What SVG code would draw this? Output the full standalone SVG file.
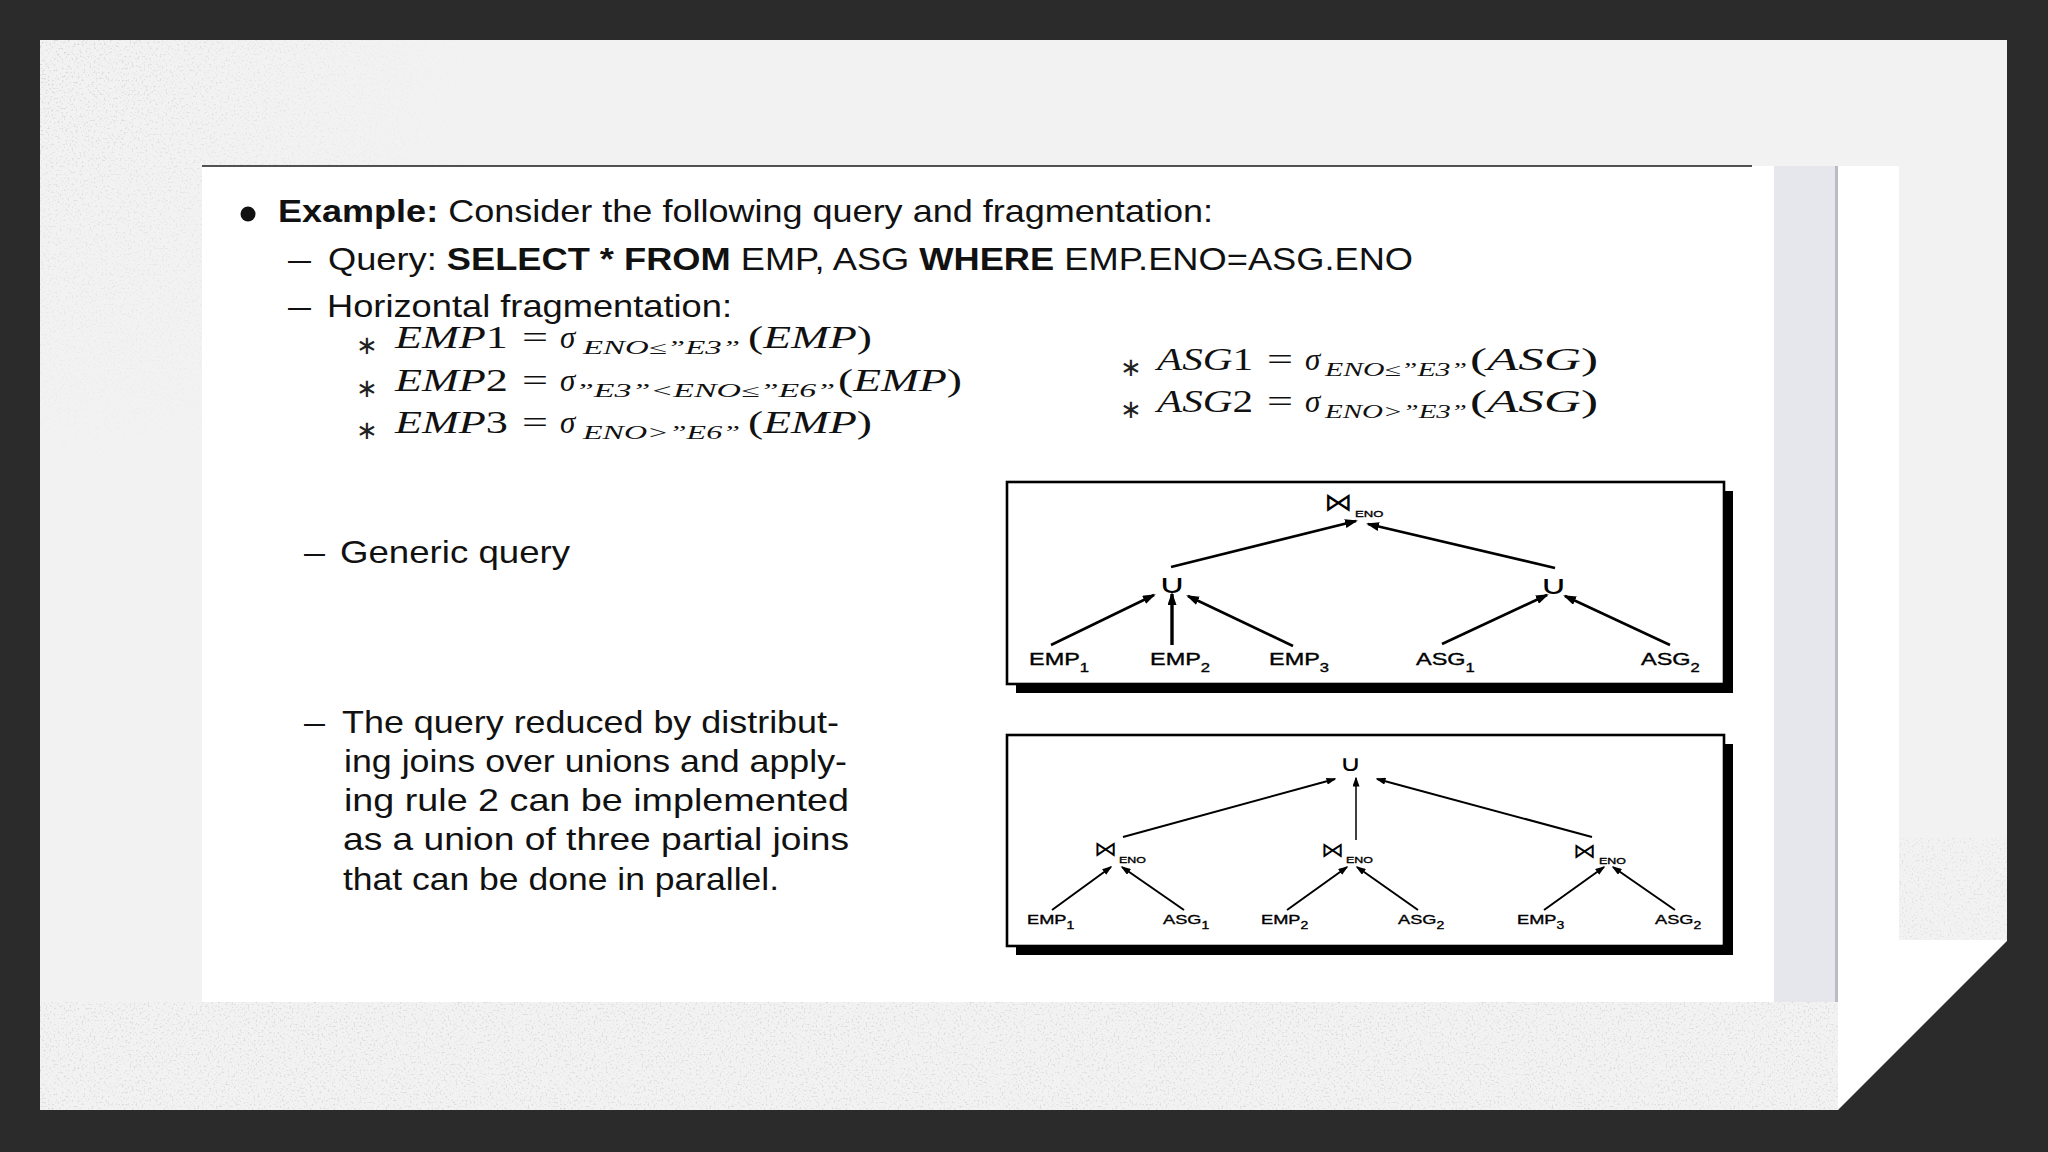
<svg xmlns="http://www.w3.org/2000/svg" width="2048" height="1152" viewBox="0 0 2048 1152">
<defs>
<style>
.sans{font-family:"Liberation Sans",Arial,sans-serif;fill:#111}
.b{font-weight:bold}
.math{font-family:"Liberation Serif","Times New Roman",serif;fill:#111;font-size:31px}
.it{font-style:italic}
.sub{font-family:"Liberation Serif","Times New Roman",serif;font-style:italic;fill:#111;font-size:18px}
.ast{font-family:"DejaVu Sans",sans-serif;fill:#222;font-size:26px}
.lbl{font-family:"Liberation Sans",Arial,sans-serif;fill:#000;stroke:#000;stroke-width:0.35}
.sym{font-family:"DejaVu Sans",sans-serif;fill:#000}
.c1{stroke:#000;stroke-width:2.6;fill:none;marker-end:url(#ah)}
.c2{stroke:#000;stroke-width:2;fill:none;marker-end:url(#ahs)}
</style>
<marker id="ah" viewBox="0 0 13 9" refX="11" refY="4.5" markerWidth="13" markerHeight="9" markerUnits="userSpaceOnUse" orient="auto"><path d="M0,0 L13,4.5 L0,9 z" fill="#000"/></marker>
<marker id="ahs" viewBox="0 0 10 7" refX="8.5" refY="3.5" markerWidth="10" markerHeight="7" markerUnits="userSpaceOnUse" orient="auto"><path d="M0,0 L10,3.5 L0,7 z" fill="#000"/></marker>
<filter id="speck" x="0" y="0" width="100%" height="100%">
<feTurbulence type="fractalNoise" baseFrequency="0.5" numOctaves="2" seed="7"/>
<feColorMatrix type="matrix" values="0 0 0 0 0.6  0 0 0 0 0.6  0 0 0 0 0.6  6 0 0 0 -3.3"/>
</filter>
<radialGradient id="tlg" cx="40" cy="40" r="460" gradientUnits="userSpaceOnUse"><stop offset="0" stop-color="#fff" stop-opacity="1"/><stop offset="1" stop-color="#fff" stop-opacity="0"/></radialGradient>
<mask id="tlm"><rect x="0" y="0" width="2048" height="1152" fill="url(#tlg)"/><rect x="40" y="1002" width="1800" height="110" fill="#fff" fill-opacity="0.8"/><rect x="1899" y="838" width="110" height="102" fill="#fff" fill-opacity="0.6"/></mask>
</defs>

<g id="background">
<rect x="0" y="0" width="2048" height="1152" fill="#2b2b2b"/>
<polygon points="40,40 2007,40 2007,941 1838,1110 40,1110" fill="#f2f2f2"/>
<rect x="40" y="40" width="1967" height="1070" filter="url(#speck)" mask="url(#tlm)" opacity="0.6"/>
<polygon points="1838,166 1899,166 1899,940 2007,940 1838,1109" fill="#ffffff"/>
<rect x="1774" y="166" width="63" height="836" fill="#e5e7ed"/>
<rect x="1835" y="166" width="3" height="836" fill="#b9bcc3"/>
<rect x="202" y="166" width="1572" height="836" fill="#ffffff"/>
<line x1="202" y1="166" x2="1752" y2="166" stroke="#1a1a1a" stroke-width="1.6"/>
</g>

<g id="text-intro">
<circle cx="248" cy="214" r="7.5" fill="#111"/>
<text class="sans" x="278" y="222" font-size="32" textLength="935" lengthAdjust="spacingAndGlyphs"><tspan class="b">Example:</tspan> Consider the following query and fragmentation:</text>
<text class="sans" x="288" y="270" font-size="32" textLength="23" lengthAdjust="spacingAndGlyphs">–</text>
<text class="sans" x="328" y="270" font-size="32" textLength="1085" lengthAdjust="spacingAndGlyphs">Query: <tspan class="b">SELECT * FROM</tspan> EMP, ASG <tspan class="b">WHERE</tspan> EMP.ENO=ASG.ENO</text>
<text class="sans" x="288" y="317" font-size="32" textLength="23" lengthAdjust="spacingAndGlyphs">–</text>
<text class="sans" x="327" y="317" font-size="32" textLength="405" lengthAdjust="spacingAndGlyphs">Horizontal fragmentation:</text>
</g>

<g id="formulas-emp">
<text class="ast" x="356" y="354">∗</text>
<text class="math" x="395" y="348" textLength="113" lengthAdjust="spacingAndGlyphs"><tspan class="it">EMP</tspan>1</text>
<text class="math" x="522" y="348" textLength="26" lengthAdjust="spacingAndGlyphs">=</text>
<text class="math it" x="560" y="348">σ</text>
<text class="sub" x="583" y="354" textLength="157" lengthAdjust="spacingAndGlyphs">ENO≤”E3”</text>
<text class="math" x="748" y="348" textLength="124" lengthAdjust="spacingAndGlyphs">(<tspan class="it">EMP</tspan>)</text>

<text class="ast" x="356" y="397">∗</text>
<text class="math" x="395" y="391" textLength="113" lengthAdjust="spacingAndGlyphs"><tspan class="it">EMP</tspan>2</text>
<text class="math" x="522" y="391" textLength="26" lengthAdjust="spacingAndGlyphs">=</text>
<text class="math it" x="560" y="391">σ</text>
<text class="sub" x="575" y="397" textLength="260" lengthAdjust="spacingAndGlyphs">”E3”&lt;ENO≤”E6”</text>
<text class="math" x="838" y="391" textLength="124" lengthAdjust="spacingAndGlyphs">(<tspan class="it">EMP</tspan>)</text>

<text class="ast" x="356" y="439">∗</text>
<text class="math" x="395" y="433" textLength="113" lengthAdjust="spacingAndGlyphs"><tspan class="it">EMP</tspan>3</text>
<text class="math" x="522" y="433" textLength="26" lengthAdjust="spacingAndGlyphs">=</text>
<text class="math it" x="560" y="433">σ</text>
<text class="sub" x="583" y="439" textLength="157" lengthAdjust="spacingAndGlyphs">ENO&gt;”E6”</text>
<text class="math" x="748" y="433" textLength="124" lengthAdjust="spacingAndGlyphs">(<tspan class="it">EMP</tspan>)</text>
</g>

<g id="formulas-asg">
<text class="ast" x="1120" y="376">∗</text>
<text class="math" x="1157" y="370" textLength="96" lengthAdjust="spacingAndGlyphs"><tspan class="it">ASG</tspan>1</text>
<text class="math" x="1267" y="370" textLength="26" lengthAdjust="spacingAndGlyphs">=</text>
<text class="math it" x="1305" y="370">σ</text>
<text class="sub" x="1325" y="376" textLength="142" lengthAdjust="spacingAndGlyphs">ENO≤”E3”</text>
<text class="math" x="1470" y="370" textLength="128" lengthAdjust="spacingAndGlyphs">(<tspan class="it">ASG</tspan>)</text>

<text class="ast" x="1120" y="418">∗</text>
<text class="math" x="1157" y="412" textLength="96" lengthAdjust="spacingAndGlyphs"><tspan class="it">ASG</tspan>2</text>
<text class="math" x="1267" y="412" textLength="26" lengthAdjust="spacingAndGlyphs">=</text>
<text class="math it" x="1305" y="412">σ</text>
<text class="sub" x="1325" y="418" textLength="142" lengthAdjust="spacingAndGlyphs">ENO&gt;”E3”</text>
<text class="math" x="1470" y="412" textLength="128" lengthAdjust="spacingAndGlyphs">(<tspan class="it">ASG</tspan>)</text>
</g>

<g id="text-generic">
<text class="sans" x="304" y="563" font-size="32" textLength="21" lengthAdjust="spacingAndGlyphs">–</text>
<text class="sans" x="340" y="563" font-size="32" textLength="230" lengthAdjust="spacingAndGlyphs">Generic query</text>
</g>

<g id="text-reduced">
<text class="sans" x="304" y="733" font-size="32" textLength="21" lengthAdjust="spacingAndGlyphs">–</text>
<text class="sans" x="342" y="733" font-size="32" textLength="497" lengthAdjust="spacingAndGlyphs">The query reduced by distribut-</text>
<text class="sans" x="344" y="772" font-size="32" textLength="503" lengthAdjust="spacingAndGlyphs">ing joins over unions and apply-</text>
<text class="sans" x="344" y="811" font-size="32" textLength="505" lengthAdjust="spacingAndGlyphs">ing rule 2 can be implemented</text>
<text class="sans" x="343" y="850" font-size="32" textLength="506" lengthAdjust="spacingAndGlyphs">as a union of three partial joins</text>
<text class="sans" x="343" y="890" font-size="32" textLength="436" lengthAdjust="spacingAndGlyphs">that can be done in parallel.</text>
</g>

<g id="tree-generic">
<rect x="1016" y="491" width="717" height="202" fill="#000"/>
<rect x="1007" y="482" width="717" height="202" fill="#fff" stroke="#000" stroke-width="2.6"/>
<g id="g1-join"><text class="sym" transform="translate(1324,511) scale(1.1,1)" font-size="26">⋈</text><text class="lbl" transform="translate(1355,517) scale(1.38,1)" font-size="9.5">ENO</text></g>
<g id="g1-unionL"><text class="sym" transform="translate(1172.5,593) scale(1.5,1)" font-size="26" text-anchor="middle">∪</text></g>
<g id="g1-unionR"><text class="sym" transform="translate(1554,594) scale(1.5,1)" font-size="26" text-anchor="middle">∪</text></g>
<g id="g1-emp1"><text class="lbl" transform="translate(1029,665) scale(1.38,1)" font-size="17">EMP<tspan dy="7" font-size="12">1</tspan></text></g>
<g id="g1-emp2"><text class="lbl" transform="translate(1150,665) scale(1.38,1)" font-size="17">EMP<tspan dy="7" font-size="12">2</tspan></text></g>
<g id="g1-emp3"><text class="lbl" transform="translate(1269,665) scale(1.38,1)" font-size="17">EMP<tspan dy="7" font-size="12">3</tspan></text></g>
<g id="g1-asg1"><text class="lbl" transform="translate(1416,665) scale(1.38,1)" font-size="17">ASG<tspan dy="7" font-size="12">1</tspan></text></g>
<g id="g1-asg2"><text class="lbl" transform="translate(1641,665) scale(1.38,1)" font-size="17">ASG<tspan dy="7" font-size="12">2</tspan></text></g>
</g>

<g id="connectors-generic">
<line class="c1" x1="1171" y1="567" x2="1356" y2="521"/>
<line class="c1" x1="1555" y1="568" x2="1368" y2="524"/>
<line class="c1" x1="1051" y1="645" x2="1154" y2="595"/>
<line class="c1" x1="1172" y1="645" x2="1172" y2="594" style="stroke-width:3.4"/>
<line class="c1" x1="1293" y1="646" x2="1188" y2="596"/>
<line class="c1" x1="1442" y1="644" x2="1547" y2="595"/>
<line class="c1" x1="1670" y1="645" x2="1565" y2="596"/>
</g>

<g id="tree-reduced">
<rect x="1016" y="744" width="717" height="211" fill="#000"/>
<rect x="1007" y="735" width="717" height="211" fill="#fff" stroke="#000" stroke-width="2.6"/>
<g id="g2-union"><text class="sym" transform="translate(1350.5,771) scale(1.4,1)" font-size="22" text-anchor="middle">∪</text></g>
<g id="g2-join1"><text class="sym" transform="translate(1094,856) scale(1.1,1)" font-size="21">⋈</text><text class="lbl" transform="translate(1119,863) scale(1.38,1)" font-size="9">ENO</text></g>
<g id="g2-join2"><text class="sym" transform="translate(1321,857) scale(1.1,1)" font-size="21">⋈</text><text class="lbl" transform="translate(1346,863) scale(1.38,1)" font-size="9">ENO</text></g>
<g id="g2-join3"><text class="sym" transform="translate(1573,858) scale(1.1,1)" font-size="21">⋈</text><text class="lbl" transform="translate(1599,864) scale(1.38,1)" font-size="9">ENO</text></g>
<g id="g2-emp1"><text class="lbl" transform="translate(1027,924) scale(1.4,1)" font-size="13">EMP<tspan dy="5" font-size="10">1</tspan></text></g>
<g id="g2-asg1"><text class="lbl" transform="translate(1163,924) scale(1.4,1)" font-size="13">ASG<tspan dy="5" font-size="10">1</tspan></text></g>
<g id="g2-emp2"><text class="lbl" transform="translate(1261,924) scale(1.4,1)" font-size="13">EMP<tspan dy="5" font-size="10">2</tspan></text></g>
<g id="g2-asg2a"><text class="lbl" transform="translate(1398,924) scale(1.4,1)" font-size="13">ASG<tspan dy="5" font-size="10">2</tspan></text></g>
<g id="g2-emp3"><text class="lbl" transform="translate(1517,924) scale(1.4,1)" font-size="13">EMP<tspan dy="5" font-size="10">3</tspan></text></g>
<g id="g2-asg2b"><text class="lbl" transform="translate(1655,924) scale(1.4,1)" font-size="13">ASG<tspan dy="5" font-size="10">2</tspan></text></g>
</g>

<g id="connectors-reduced">
<line class="c2" x1="1123" y1="837" x2="1335" y2="779"/>
<line class="c2" x1="1356" y1="840" x2="1356" y2="778" style="stroke-width:1.5"/>
<line class="c2" x1="1592" y1="837" x2="1377" y2="779"/>
<line class="c2" x1="1052" y1="910" x2="1111" y2="867"/>
<line class="c2" x1="1184" y1="910" x2="1122" y2="867"/>
<line class="c2" x1="1287" y1="910" x2="1347" y2="867"/>
<line class="c2" x1="1418" y1="910" x2="1357" y2="867"/>
<line class="c2" x1="1544" y1="910" x2="1604" y2="867"/>
<line class="c2" x1="1675" y1="910" x2="1613" y2="867"/>
</g>
</svg>
